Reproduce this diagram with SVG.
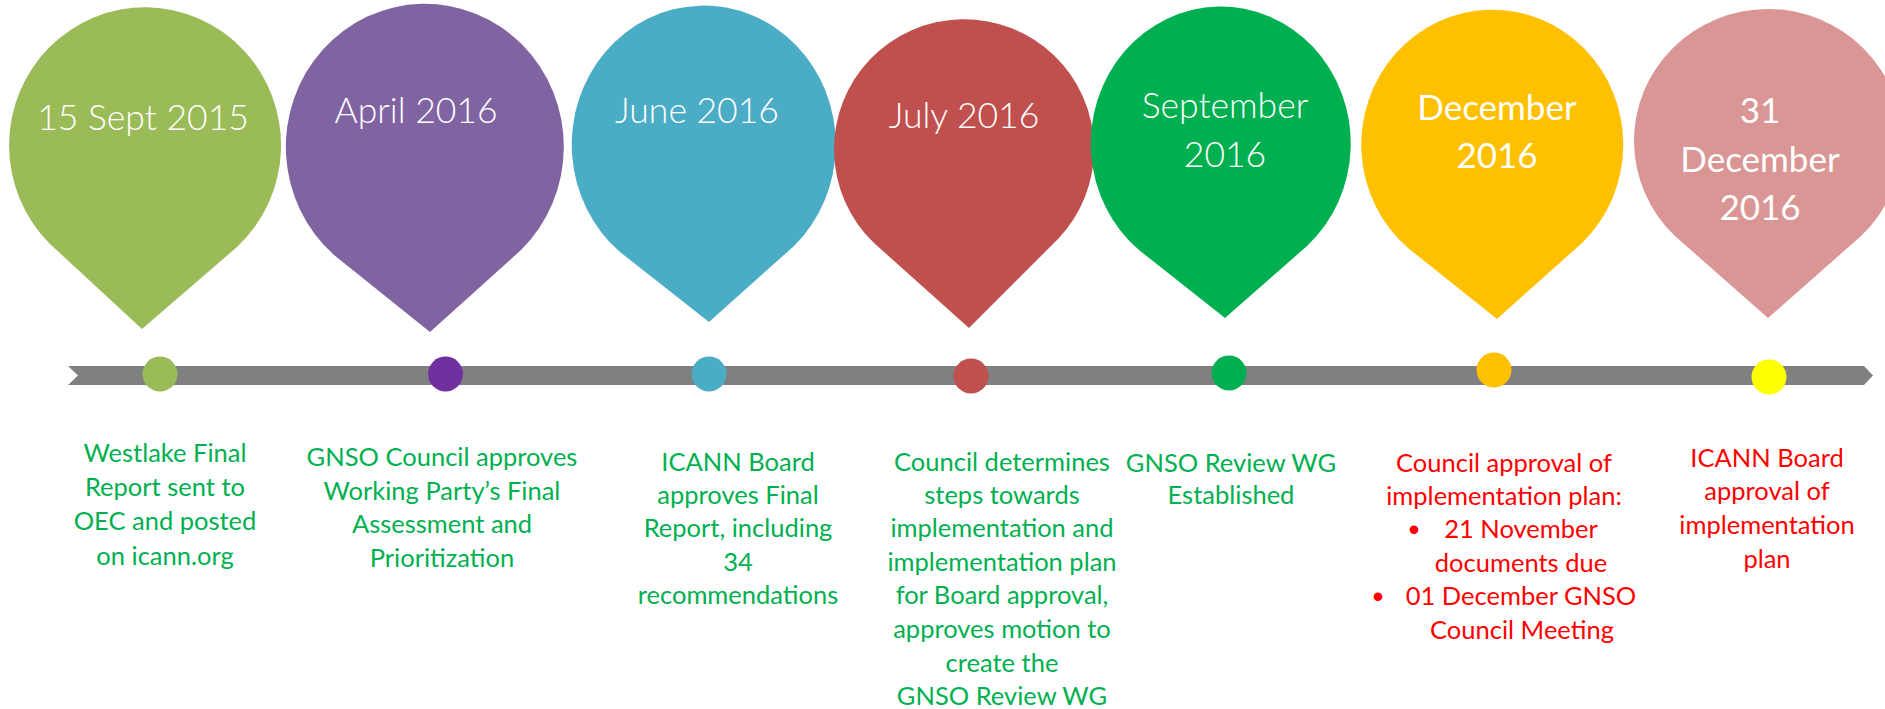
<svg xmlns="http://www.w3.org/2000/svg" width="1885" height="709" viewBox="0 0 1885 709">
<style>
.date{font-family:Lato,"Open Sans","Liberation Sans",sans-serif;font-size:35.5px;font-weight:300;fill:#fff;text-anchor:middle}
.dateb{font-family:Lato,"Open Sans","Liberation Sans",sans-serif;font-size:35px;font-weight:400;fill:#fff;text-anchor:middle}
.g{font-family:Lato,"Open Sans","Liberation Sans",sans-serif;font-size:25.5px;fill:#00B050;text-anchor:middle}
.r{font-family:Lato,"Open Sans","Liberation Sans",sans-serif;font-size:25.5px;fill:#FF0000;text-anchor:middle}
.b{font-family:"Liberation Sans",sans-serif;font-size:30px;font-weight:700;fill:#FF0000;text-anchor:middle}
</style>
<rect width="1885" height="709" fill="#fff"/>
<g id="timeline">
<polygon points="68,366 1864,366 1873,375.5 1864,385 68,385 78,375.5" fill="#808080"/>
</g>
<g id="n1">
<path d="M142,329 L50,244 A136,138 0 1 1 237,247 Z" fill="#9BBB59"/>
<text class="date" x="143" y="130">15 Sept 2015</text>
<circle cx="160" cy="374" r="17.5" fill="#9BBB59"/>
<text class="g" x="165" y="462">Westlake Final</text>
<text class="g" x="165" y="496">Report sent to</text>
<text class="g" x="165" y="530">OEC and posted</text>
<text class="g" x="165" y="565">on icann.org</text>
</g>
<g id="n2">
<path d="M430,332 L334,255 A139,143 0 1 1 521,250 Z" fill="#8064A2"/>
<text class="date" x="416" y="123">April 2016</text>
<circle cx="445.5" cy="374" r="17.5" fill="#7030A0"/>
<text class="g" x="442" y="466">GNSO Council approves</text>
<text class="g" x="442" y="500">Working Party’s Final</text>
<text class="g" x="442" y="533">Assessment and</text>
<text class="g" x="442" y="567">Prioritization</text>
</g>
<g id="n3">
<path d="M709,322 L620,252 A132,139 0 1 1 794,246 Z" fill="#4BACC6"/>
<text class="date" x="697" y="123">June 2016</text>
<circle cx="709" cy="374" r="17.5" fill="#4BACC6"/>
<text class="g" x="738" y="471">ICANN Board</text>
<text class="g" x="738" y="504">approves Final</text>
<text class="g" x="738" y="537">Report, including</text>
<text class="g" x="738" y="571">34</text>
<text class="g" x="738" y="604">recommendations</text>
</g>
<g id="n4">
<path d="M969,328 L874,243 A130,130 0 1 1 1058,239 Z" fill="#C0504D"/>
<text class="date" x="964" y="128">July 2016</text>
<circle cx="971" cy="376" r="17.5" fill="#C0504D"/>
<text class="g" x="1002" y="471">Council determines</text>
<text class="g" x="1002" y="504">steps towards</text>
<text class="g" x="1002" y="537">implementation and</text>
<text class="g" x="1002" y="571">implementation plan</text>
<text class="g" x="1002" y="604">for Board approval,</text>
<text class="g" x="1002" y="638">approves motion to</text>
<text class="g" x="1002" y="672">create the</text>
<text class="g" x="1002" y="705">GNSO Review WG</text>
</g>
<g id="n5">
<path d="M1225,318 L1139,250 A130,137 0 1 1 1307,246 Z" fill="#00B050"/>
<text class="date" x="1225" y="118">September</text>
<text class="date" x="1225" y="167">2016</text>
<circle cx="1229" cy="373" r="17.5" fill="#00B050"/>
<text class="g" x="1231" y="472">GNSO Review WG</text>
<text class="g" x="1231" y="504">Established</text>
</g>
<g id="n6">
<path d="M1497,319 L1408,248 A131,135 0 1 1 1582,243 Z" fill="#FFC000"/>
<text class="dateb" x="1497" y="120">December</text>
<text class="dateb" x="1497" y="168">2016</text>
<circle cx="1494" cy="370" r="17.5" fill="#FFC000"/>
<text class="r" x="1504" y="472">Council approval of</text>
<text class="r" x="1504" y="505">implementation plan:</text>
<text class="b" x="1414" y="540">•</text>
<text class="r" x="1521" y="538">21 November</text>
<text class="r" x="1521" y="572">documents due</text>
<text class="b" x="1378" y="607">•</text>
<text class="r" x="1521" y="605">01 December GNSO</text>
<text class="r" x="1522" y="639">Council Meeting</text>
</g>
<g id="n7">
<path d="M1768,318 L1675,236 A134,132 0 1 1 1861,236 Z" fill="#D99694"/>
<text class="dateb" x="1760" y="123">31</text>
<text class="dateb" x="1760" y="172">December</text>
<text class="dateb" x="1760" y="220">2016</text>
<circle cx="1769" cy="377" r="17.5" fill="#FFFF00"/>
<text class="r" x="1767" y="467">ICANN Board</text>
<text class="r" x="1767" y="500">approval of</text>
<text class="r" x="1767" y="534">implementation</text>
<text class="r" x="1767" y="568">plan</text>
</g>
</svg>
